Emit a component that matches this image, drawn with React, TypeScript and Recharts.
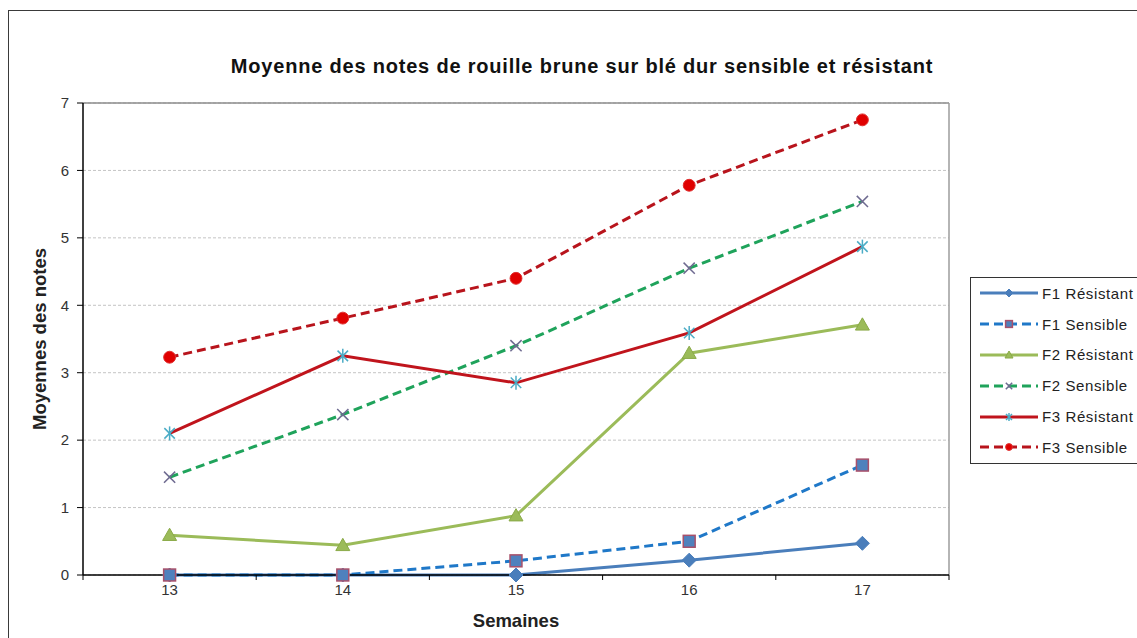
import React from 'react';
import { LineChart, Line, XAxis, YAxis, CartesianGrid, ReferenceLine, Legend, Label } from 'recharts';

// ---- data ----
const weeks = [13, 14, 15, 16, 17];
const f1Resistant = [0, 0, 0, 0.22, 0.47];
const f1Sensible = [0, 0, 0.21, 0.5, 1.63];
const f2Resistant = [0.59, 0.44, 0.88, 3.29, 3.71];
const f2Sensible = [1.45, 2.38, 3.4, 4.55, 5.54];
const f3Resistant = [2.1, 3.25, 2.85, 3.59, 4.87];
const f3Sensible = [3.23, 3.81, 4.4, 5.78, 6.75];
const seriesNames = ['F1 Résistant', 'F1 Sensible', 'F2 Résistant', 'F2 Sensible', 'F3 Résistant', 'F3 Sensible'];
const yTicks = [0, 1, 2, 3, 4, 5, 6, 7];
const xTicks = [12.5, 13, 13.5, 14, 14.5, 15, 15.5, 16, 16.5, 17, 17.5];

const title = 'Moyenne des notes de rouille brune sur blé dur sensible et résistant';
const xTitle = 'Semaines';
const yTitle = 'Moyennes des notes';

const seriesValues = [f1Resistant, f1Sensible, f2Resistant, f2Sensible, f3Resistant, f3Sensible];
const seriesKeys = ['f1r', 'f1s', 'f2r', 'f2s', 'f3r', 'f3s'];

const data = weeks.map((w, i) => {
  const row: any = { week: w };
  seriesKeys.forEach((k, j) => {
    row[k] = seriesValues[j][i];
  });
  return row;
});

// ---- styles ----
const styles: any[] = [
  { color: '#4A7EBB', dash: undefined, shape: 'diamond', fill: '#4A7EBB', stroke: '#4A7EBB' },
  { color: '#1F78C8', dash: '9 5', shape: 'square', fill: '#4F81BD', stroke: '#A8506A' },
  { color: '#9BBB59', dash: undefined, shape: 'triangle', fill: '#9BBB59', stroke: '#8AAA48' },
  { color: '#1FA35B', dash: '9 5', shape: 'x', fill: 'none', stroke: '#6E6A90' },
  { color: '#C0141C', dash: undefined, shape: 'asterisk', fill: 'none', stroke: '#4BACC6' },
  { color: '#B8141C', dash: '9 5', shape: 'circle', fill: '#E00000', stroke: '#E03030' },
];

const FONT = '"Liberation Sans", Arial, Helvetica, sans-serif';

function Marker({ shape, cx, cy, fill, stroke, s }: any) {
  if (cx == null || cy == null) return null;
  switch (shape) {
    case 'diamond':
      return <polygon points={`${cx},${cy - s} ${cx + s},${cy} ${cx},${cy + s} ${cx - s},${cy}`} fill={fill} stroke={stroke} strokeWidth={1} />;
    case 'square':
      return <rect x={cx - s * 0.85} y={cy - s * 0.85} width={s * 1.7} height={s * 1.7} fill={fill} stroke={stroke} strokeWidth={1.5} />;
    case 'triangle':
      return <polygon points={`${cx},${cy - s} ${cx + s},${cy + s * 0.75} ${cx - s},${cy + s * 0.75}`} fill={fill} stroke={stroke} strokeWidth={1} />;
    case 'x':
      return (
        <g stroke={stroke} strokeWidth={1.5}>
          <line x1={cx - s * 0.8} y1={cy - s * 0.8} x2={cx + s * 0.8} y2={cy + s * 0.8} />
          <line x1={cx - s * 0.8} y1={cy + s * 0.8} x2={cx + s * 0.8} y2={cy - s * 0.8} />
        </g>
      );
    case 'asterisk':
      return (
        <g stroke={stroke} strokeWidth={1.5}>
          <line x1={cx - s * 0.75} y1={cy - s * 0.75} x2={cx + s * 0.75} y2={cy + s * 0.75} />
          <line x1={cx - s * 0.75} y1={cy + s * 0.75} x2={cx + s * 0.75} y2={cy - s * 0.75} />
          <line x1={cx} y1={cy - s} x2={cx} y2={cy + s} />
        </g>
      );
    case 'circle':
      return <circle cx={cx} cy={cy} r={s * 0.85} fill={fill} stroke={stroke} strokeWidth={1} />;
    default:
      return null;
  }
}

const XTick = (props: any) => {
  const { x, y, payload } = props;
  const v = payload.value;
  if (Number.isInteger(v)) {
    return (
      <text x={x} y={y} dy="0.72em" textAnchor="middle" fill="#333" fontSize={15} fontFamily={FONT}>
        {v}
      </text>
    );
  }
  return <line x1={x} y1={y - 9} x2={x} y2={y - 4} stroke="#000" strokeWidth={1} />;
};

const LegendContent = () => (
  <div
    style={{
      border: '1px solid #333',
      background: '#fff',
      width: 220,
      boxSizing: 'border-box',
      padding: '0 0 0 9px',
      fontFamily: FONT,
    }}
  >
    {seriesNames.map((name, i) => {
      const st = styles[i];
      return (
        <div key={name} style={{ height: 30.8, display: 'flex', alignItems: 'center' }}>
          <svg width={58} height={16} style={{ display: 'block' }}>
            <line x1={0} y1={8} x2={58} y2={8} stroke={st.color} strokeWidth={3} strokeDasharray={st.dash ? '9 5' : undefined} />
            <Marker shape={st.shape} cx={29} cy={8} fill={st.fill} stroke={st.stroke} s={4} />
          </svg>
          <span style={{ marginLeft: 4, fontSize: 15, color: '#222', whiteSpace: 'nowrap', letterSpacing: 0.6 }}>{name}</span>
        </div>
      );
    })}
  </div>
);

export default function App() {
  return (
    <div style={{ position: 'fixed', left: 0, top: 0, width: 1137, height: 638, overflow: 'hidden', background: '#fff' }}>
      <div
        style={{
          position: 'absolute',
          left: 8,
          top: 10,
          width: 1160,
          height: 700,
          border: '1px solid #3a3a3a',
          boxSizing: 'border-box',
        }}
      />
      <div
        style={{
          position: 'absolute',
          left: 0,
          top: 55,
          width: 1164,
          textAlign: 'center',
          fontFamily: FONT,
          fontWeight: 'bold',
          fontSize: 20,
          letterSpacing: 0.8,
          color: '#111',
          whiteSpace: 'nowrap',
        }}
      >
        {title}
      </div>
      <div style={{ position: 'absolute', left: 0, top: 0 }}>
        <LineChart width={1137} height={638} data={data} margin={{ top: 103, right: 188, bottom: 13, left: 23 }}>
          <CartesianGrid vertical={false} stroke="#c4c4c4" strokeDasharray="3 2" />
          <XAxis
            dataKey="week"
            type="number"
            domain={[12.5, 17.5]}
            ticks={xTicks}
            interval={0}
            tick={<XTick />}
            tickLine={false}
            tickSize={5}
            tickMargin={4}
            height={50}
            axisLine={{ stroke: '#000', strokeWidth: 1.5 }}
          >
            <Label
              content={(p: any) => {
                const vb = p.viewBox;
                return (
                  <text x={vb.x + vb.width / 2} y={vb.y + 52} textAnchor="middle" fontFamily={FONT} fontWeight="bold" fontSize={18.5} fill="#222">
                    {xTitle}
                  </text>
                );
              }}
            />
          </XAxis>
          <YAxis
            type="number"
            domain={[0, 7]}
            ticks={yTicks}
            interval={0}
            width={60}
            tickSize={6}
            tickMargin={8}
            tick={{ fill: '#333', fontSize: 15, fontFamily: FONT }}
            tickLine={{ stroke: '#000' }}
            axisLine={{ stroke: '#000', strokeWidth: 1.5 }}
          >
            <Label
              content={(p: any) => {
                const vb = p.viewBox;
                const x = vb.x + 23;
                const y = vb.y + vb.height / 2;
                return (
                  <text x={x} y={y} transform={`rotate(-90 ${x} ${y})`} textAnchor="middle" fontFamily={FONT} fontWeight="bold" fontSize={18.5} fill="#222">
                    {yTitle}
                  </text>
                );
              }}
            />
          </YAxis>
          <ReferenceLine y={7} stroke="#8c8c8c" strokeWidth={1.5} />
          <ReferenceLine x={17.5} stroke="#9c9c9c" strokeWidth={1.5} />
          {seriesKeys.map((k, i) => {
            const st = styles[i];
            return (
              <Line
                key={k}
                dataKey={k}
                name={seriesNames[i]}
                type="linear"
                stroke={st.color}
                strokeWidth={3}
                strokeDasharray={st.dash}
                isAnimationActive={false}
                activeDot={false}
                dot={(p: any) => (
                  <Marker key={`${k}-${p.index}`} shape={st.shape} cx={p.cx} cy={p.cy} fill={st.fill} stroke={st.stroke} s={7} />
                )}
              />
            );
          })}
          <Legend
            layout="vertical"
            align="center"
            verticalAlign="middle"
            content={<LegendContent />}
            wrapperStyle={{ left: 970, top: 277, width: 220, height: 'auto' }}
          />
        </LineChart>
      </div>
    </div>
  );
}
